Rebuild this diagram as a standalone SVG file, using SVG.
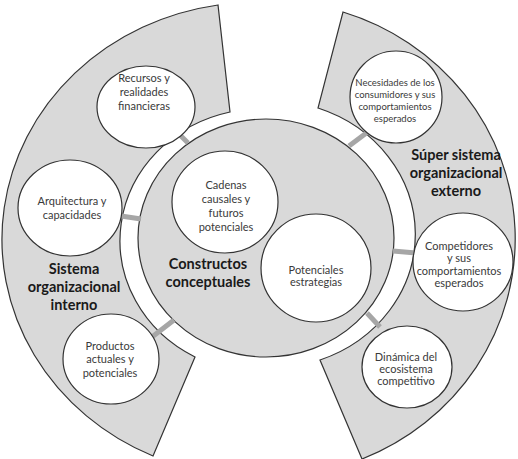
<svg xmlns="http://www.w3.org/2000/svg" width="518" height="459" viewBox="0 0 518 459">
  <style>
    .band { fill: #d9d9d9; stroke: #333333; stroke-width: 1.2; }
    .core { fill: #d9d9d9; stroke: #333333; stroke-width: 1.2; }
    .node { fill: #ffffff; stroke: #333333; stroke-width: 1.2; }
    .link { stroke: #a6a6a6; stroke-width: 5; fill: none; }
    text { font-family: Lato, "Liberation Sans", sans-serif; fill: #3a3a3a; text-anchor: middle; }
    .t { font-size: 11px; }
    .s { font-size: 9.5px; }
    .h { font-size: 14.5px; font-weight: bold; fill: #1a1a1a; }
  </style>
  <rect width="518" height="459" fill="#ffffff"/>

  <!-- outer bands -->
  <g id="band-interno">
    <path class="band" d="M 218,5 A 254 237 0 0 0 153,456 L 195,357 A 142 132 0 0 1 230,112 Z"/>
  </g>
  <g id="band-externo">
    <path class="band" d="M 343,12 A 247 238 0 0 1 362,459 L 320,360 A 146 134 0 0 0 318,108 Z"/>
  </g>

  <!-- central disc -->
  <g id="core">
    <ellipse class="core" cx="266" cy="238" rx="128" ry="119"/>
  </g>

  <!-- connectors between the bands and the central disc -->
  <g id="connectors">
    <line class="link" x1="176" y1="131" x2="188" y2="143"/>
    <line class="link" x1="121" y1="216" x2="141" y2="219"/>
    <line class="link" x1="152" y1="337" x2="174" y2="320"/>
    <line class="link" x1="349" y1="146" x2="369" y2="131"/>
    <line class="link" x1="393" y1="251" x2="416" y2="253"/>
    <line class="link" x1="367" y1="313" x2="380" y2="327"/>
  </g>

  <g id="recursos">
    <ellipse class="node" cx="146" cy="107" rx="49" ry="41"/>
    <text class="t" x="144" y="82">Recursos y</text>
    <text class="t" x="144" y="96">realidades</text>
    <text class="t" x="144" y="110">financieras</text>
  </g>
  <g id="arquitectura">
    <ellipse class="node" cx="70" cy="208" rx="52" ry="48"/>
    <text class="t" x="72" y="205">Arquitectura y</text>
    <text class="t" x="72" y="219">capacidades</text>
  </g>
  <g id="productos">
    <ellipse class="node" cx="111" cy="359" rx="48" ry="45"/>
    <text class="t" x="110" y="350">Productos</text>
    <text class="t" x="110" y="363">actuales y</text>
    <text class="t" x="110" y="377">potenciales</text>
  </g>
  <g id="cadenas">
    <ellipse class="node" cx="225" cy="202" rx="53" ry="51"/>
    <text class="t" x="226" y="189">Cadenas</text>
    <text class="t" x="226" y="203">causales y</text>
    <text class="t" x="226" y="217">futuros</text>
    <text class="t" x="226" y="231">potenciales</text>
  </g>
  <g id="estrategias">
    <ellipse class="node" cx="316" cy="268" rx="55" ry="54"/>
    <text class="t" x="316" y="274">Potenciales</text>
    <text class="t" x="316" y="286">estrategias</text>
  </g>
  <g id="necesidades">
    <ellipse class="node" cx="396" cy="97" rx="46" ry="46"/>
    <text class="s" x="395" y="86">Necesidades de los</text>
    <text class="s" x="395" y="98">consumidores y sus</text>
    <text class="s" x="395" y="110">comportamientos</text>
    <text class="s" x="395" y="122">esperados</text>
  </g>
  <g id="competidores">
    <ellipse class="node" cx="463" cy="262" rx="50" ry="49"/>
    <text class="t" x="459" y="250">Competidores</text>
    <text class="t" x="459" y="262">y sus</text>
    <text class="t" x="459" y="275">comportamientos</text>
    <text class="t" x="459" y="287">esperados</text>
  </g>
  <g id="dinamica">
    <ellipse class="node" cx="407" cy="367" rx="45" ry="41"/>
    <text class="t" x="406" y="361">Dinámica del</text>
    <text class="t" x="406" y="373">ecosistema</text>
    <text class="t" x="406" y="385">competitivo</text>
  </g>

  <!-- band and disc titles -->
  <g id="titles">
    <text class="h" x="74" y="274">Sistema</text>
    <text class="h" x="74" y="292">organizacional</text>
    <text class="h" x="74" y="310">interno</text>
    <text class="h" x="208" y="269">Constructos</text>
    <text class="h" x="208" y="287">conceptuales</text>
    <text class="h" x="456" y="160">Súper sistema</text>
    <text class="h" x="456" y="178">organizacional</text>
    <text class="h" x="456" y="196">externo</text>
  </g>
</svg>
